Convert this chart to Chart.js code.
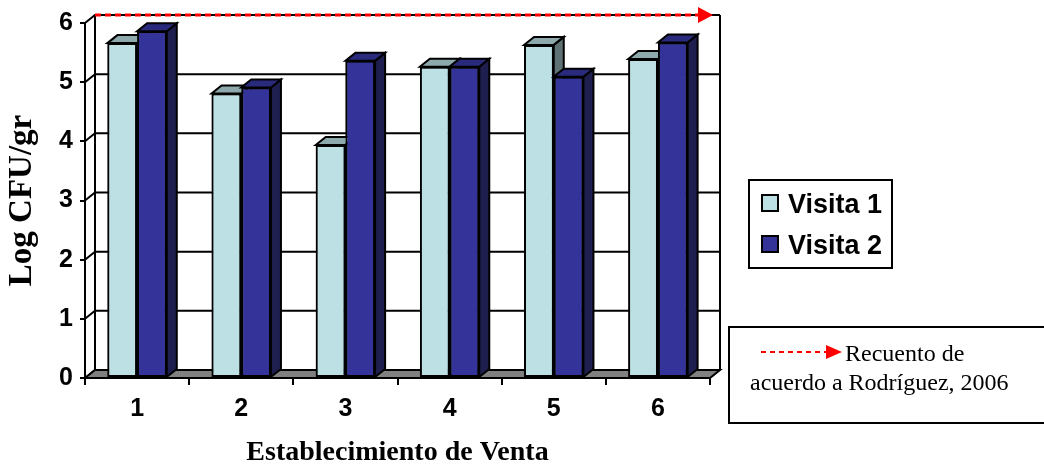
<!DOCTYPE html>
<html>
<head>
<meta charset="utf-8">
<script src="https://cdn.jsdelivr.net/npm/chart.js@4.4.1/dist/chart.umd.min.js"></script>
<style>
  html, body { margin: 0; padding: 0; background: #fff; overflow: hidden; }
  #wrap { width: 1044px; height: 468px; position: relative; }
</style>
</head>
<body>
<div id="wrap"><canvas id="c" width="1044" height="468"></canvas></div>
<script>
// Log CFU/gr per point of sale, two visits
const establecimientos = ['1', '2', '3', '4', '5', '6'];
const visita1 = [5.66, 4.81, 3.94, 5.26, 5.63, 5.39];
const visita2 = [5.86, 4.91, 5.36, 5.26, 5.09, 5.67];
const yTicks = [0, 1, 2, 3, 4, 5, 6];
const recuentoReferencia = 6;   // reference count (Rodríguez, 2006)

// depth of the pseudo-3D box (pixels)
const DX = 10, DY = -8;

function poly(ctx, pts, fill) {
  ctx.beginPath();
  ctx.moveTo(pts[0][0], pts[0][1]);
  for (let i = 1; i < pts.length; i++) ctx.lineTo(pts[i][0], pts[i][1]);
  ctx.closePath();
  if (fill) { ctx.fillStyle = fill; ctx.fill(); }
  ctx.stroke();
}

const depthPlugin = {
  id: 'depth3d',
  beforeDatasetsDraw(chart) {
    const { ctx, chartArea: a, scales: { y } } = chart;
    ctx.save();
    ctx.strokeStyle = '#000';
    ctx.lineWidth = 2;
    ctx.lineJoin = 'miter';
    const wallTop = y.getPixelForValue(y.max) + DY;
    const wallBot = y.getPixelForValue(y.min) + DY;
    // grid lines on side wall and back wall
    y.ticks.forEach(t => {
      const py = y.getPixelForValue(t.value);
      ctx.beginPath();
      ctx.moveTo(a.left, py);
      ctx.lineTo(a.left + DX, py + DY);
      ctx.lineTo(a.right + DX, py + DY);
      ctx.stroke();
    });
    // back wall edges
    ctx.beginPath();
    ctx.moveTo(a.left + DX, wallTop); ctx.lineTo(a.left + DX, wallBot);
    ctx.moveTo(a.right + DX, wallTop); ctx.lineTo(a.right + DX, wallBot);
    ctx.stroke();
    // floor
    poly(ctx, [[a.left, a.bottom], [a.right, a.bottom], [a.right + DX, a.bottom + DY], [a.left + DX, a.bottom + DY]], '#808080');
    ctx.restore();
  },
  afterDatasetsDraw(chart) {
    const { ctx, chartArea: a, scales: { y } } = chart;
    // columns: series in order, each front face followed by its side and top
    chart.data.datasets.forEach((ds, i) => {
      const meta = chart.getDatasetMeta(i);
      meta.data.forEach(el => el.draw(ctx));
      ctx.save();
      ctx.strokeStyle = '#000';
      ctx.lineWidth = 2;
      ctx.lineJoin = 'miter';
      meta.data.forEach(el => {
        const p = el.getProps(['x', 'y', 'base', 'width'], true);
        const L = p.x - p.width / 2, R = p.x + p.width / 2;
        poly(ctx, [[R, p.y], [R + DX, p.y + DY], [R + DX, p.base + DY], [R, p.base]], ds.sideColor);
        poly(ctx, [[L, p.y], [R, p.y], [R + DX, p.y + DY], [L + DX, p.y + DY]], ds.topColor);
      });
      ctx.restore();
    });

    // reference count line along the top of the back wall
    const py = y.getPixelForValue(recuentoReferencia) + DY;
    const tip = a.right + 3;
    ctx.save();
    ctx.strokeStyle = '#000';
    ctx.lineWidth = 2;
    ctx.beginPath(); ctx.moveTo(a.left + DX, py); ctx.lineTo(a.right + DX, py); ctx.stroke();
    ctx.strokeStyle = '#ff0000';
    ctx.lineWidth = 3;
    ctx.setLineDash([6, 4]);
    ctx.beginPath(); ctx.moveTo(a.left + DX, py); ctx.lineTo(tip - 15, py); ctx.stroke();
    ctx.setLineDash([]);
    ctx.fillStyle = '#ff0000';
    ctx.beginPath();
    ctx.moveTo(tip - 15, py - 8); ctx.lineTo(tip, py); ctx.lineTo(tip - 15, py + 8);
    ctx.closePath(); ctx.fill();
    ctx.restore();
  },
  afterDraw(chart) {
    const { ctx } = chart;
    ctx.save();
    ctx.strokeStyle = '#000';
    ctx.lineWidth = 2;
    // series legend
    ctx.fillStyle = '#fff';
    ctx.fillRect(749, 180, 143, 88);
    ctx.strokeRect(749, 180, 143, 88);
    ctx.font = 'bold 27px "Liberation Sans", Arial, sans-serif';
    ctx.textBaseline = 'alphabetic';
    const rows = [213, 254];
    chart.data.datasets.forEach((ds, i) => {
      const by = rows[i];
      ctx.fillStyle = ds.backgroundColor;
      ctx.fillRect(762, by - 18, 16, 16);
      ctx.strokeRect(762, by - 18, 16, 16);
      ctx.fillStyle = '#000';
      ctx.fillText(ds.label, 788, by);
    });
    // reference legend
    ctx.strokeRect(729, 327, 320, 96);
    ctx.strokeStyle = '#ff0000';
    ctx.lineWidth = 2;
    ctx.setLineDash([5, 4]);
    ctx.beginPath(); ctx.moveTo(761, 352); ctx.lineTo(826, 352); ctx.stroke();
    ctx.setLineDash([]);
    ctx.fillStyle = '#ff0000';
    ctx.beginPath(); ctx.moveTo(826, 345); ctx.lineTo(842, 352); ctx.lineTo(826, 359); ctx.closePath(); ctx.fill();
    ctx.fillStyle = '#000';
    ctx.font = '24px "Liberation Serif", "Times New Roman", serif';
    ctx.fillText('Recuento de', 845, 361);
    ctx.fillText('acuerdo a Rodríguez, 2006', 750, 390);
    ctx.restore();
  }
};

const tickFont = { family: '"Liberation Sans", Arial, sans-serif', size: 25, weight: 'bold' };

new Chart(document.getElementById('c'), {
  type: 'bar',
  data: {
    labels: establecimientos,
    datasets: [
      { label: 'Visita 1', data: visita1, backgroundColor: '#bce0e3', sideColor: '#5f7273', topColor: '#8ea9ab',
        borderColor: '#000', borderWidth: 2, borderSkipped: false },
      { label: 'Visita 2', data: visita2, backgroundColor: '#333399', sideColor: '#1f1f4f', topColor: '#2a2a7c',
        borderColor: '#000', borderWidth: 2, borderSkipped: false }
    ]
  },
  options: {
    responsive: false,
    animation: false,
    devicePixelRatio: 1,
    layout: { padding: { left: 0, right: 334, top: 23, bottom: 0 } },
    datasets: { bar: { categoryPercentage: 0.57, barPercentage: 1.0 } },
    plugins: { legend: { display: false }, tooltip: { enabled: false } },
    scales: {
      x: {
        grid: { display: true, drawOnChartArea: false, drawTicks: true, tickLength: 7, color: '#000', lineWidth: 2, offset: true },
        border: { display: true, color: '#000', width: 2 },
        ticks: { font: tickFont, color: '#000', padding: 9, maxRotation: 0 },
        title: { display: true, text: 'Establecimiento de Venta', color: '#000',
                 font: { family: '"Liberation Serif", "Times New Roman", serif', size: 28, weight: 'bold' },
                 padding: { top: 0, bottom: -2 } },
        afterFit: s => { s.height = 90; }
      },
      y: {
        min: 0, max: 6,
        afterBuildTicks: s => { s.ticks = yTicks.map(v => ({ value: v })); },
        grid: { display: true, drawOnChartArea: false, drawTicks: true, tickLength: 5, color: '#000', lineWidth: 2 },
        border: { display: true, color: '#000', width: 2 },
        ticks: { font: tickFont, color: '#000', padding: 7 },
        title: { display: true, text: 'Log CFU/gr', color: '#000',
                 font: { family: '"Liberation Serif", "Times New Roman", serif', size: 33, weight: 'bold' },
                 padding: { top: 3, bottom: 0 } },
        afterFit: s => { s.width = 85; }
      }
    }
  },
  plugins: [depthPlugin]
});
</script>
</body>
</html>
